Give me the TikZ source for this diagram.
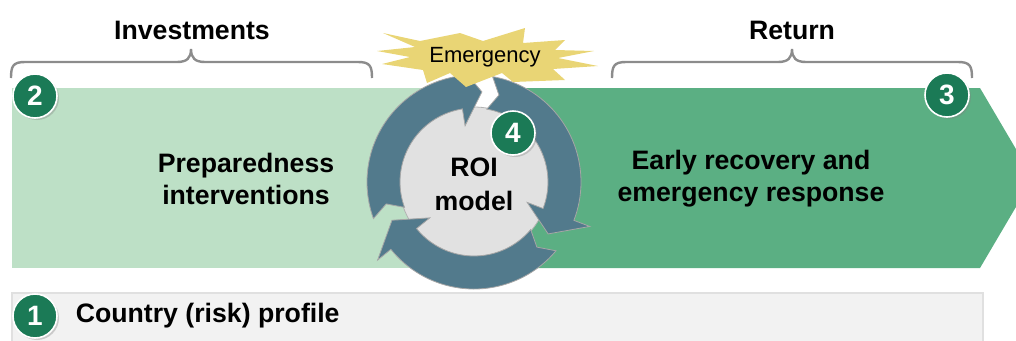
\documentclass[tikz,border=0pt]{standalone}
\usepackage{fontspec}
\setmainfont{Liberation Sans}
\usetikzlibrary{positioning,shadows}

\definecolor{lightgr}{HTML}{BDE0C6}
\definecolor{darkgr}{HTML}{5BAF83}
\definecolor{badgegr}{HTML}{1B7A56}
\definecolor{ringbl}{HTML}{527A8C}
\definecolor{discgr}{HTML}{E1E1E1}
\definecolor{bracegr}{HTML}{8C8C8C}
\definecolor{starye}{HTML}{E9D575}
\definecolor{barbg}{HTML}{F2F2F2}

% curved arrow of the cycle, #1 = angle of its tail
\newcommand{\cycarrow}[1]{%
  \filldraw[ringarrow] (#1:107) arc[start angle=#1, end angle=#1-101, radius=107]
    -- (#1-101:124) -- (#1-115:90.5) -- (#1-101:57) -- (#1-101:74)
    arc[start angle=#1-101, end angle=#1, radius=74] -- (#1-6:90.5) -- cycle;}

% curly bracket over the band, #1 left, #2 middle, #3 right
\newcommand{\bracket}[3]{%
  \draw[brace] (#1,78) .. controls (#1,66) and (#1+2,62) .. (#1+14,62) -- (#2-14,62)
    .. controls (#2-4,62) and (#2,58) .. (#2,49) .. controls (#2,58) and (#2+4,62) .. (#2+14,62)
    -- (#3-14,62) .. controls (#3-2,62) and (#3,66) .. (#3,78);}

\begin{document}
\begin{tikzpicture}[x=0.75pt,y=-0.75pt,
    badge/.style={circle, fill=badgegr, draw=white, line width=1.2pt, minimum size=33pt,
      inner sep=0pt, text=white, font=\fontsize{21}{21}\selectfont\bfseries,
      drop shadow={opacity=0.35, shadow xshift=1.5pt, shadow yshift=-1.5pt}},
    brace/.style={draw=bracegr, line width=1.8pt},
    ringarrow/.style={fill=ringbl, draw=gray!70, line width=0.6pt},
    head/.style={font=\fontsize{20}{24}\selectfont\bfseries, align=center}]

  \useasboundingbox (0,0) rectangle (1016,340);
  \clip (0,0) rectangle (1016,340);

  % bands
  \fill[lightgr] (12,88) rectangle (500,268);
  \fill[darkgr] (490,88) -- (980,88) -- (1033,178) -- (980,268) -- (490,268) -- cycle;
  \filldraw[fill=barbg, draw=black!12, line width=0.8pt] (12,293) rectangle (983,350);

  % brackets
  \bracket{11}{191}{372}
  \bracket{612}{792}{972}
  \node[head] (inv) at (192,30) {Investments};
  \node[head] (ret) at (792,30) {Return};

  % ROI cycle
  \begin{scope}[shift={(474,182)}, y=0.75pt]
    \fill[white] (80:110) -- (74:90.5) -- (80:72) -- (93:72) -- (85:90.5) -- (93:110) -- cycle;
    \filldraw[fill=discgr, draw=gray!60, line width=0.6pt] (0,0) circle[radius=75];
    \cycarrow{200}
    \cycarrow{80}
    \cycarrow{-40}
  \end{scope}

  % emergency burst
  \fill[starye] (383,33) -- (420,41) -- (460,33) -- (483,41) -- (525,28) -- (523,43)
    -- (565,40) -- (555,50) -- (594,51) -- (558,58) -- (598,66) -- (553,69)
    -- (565,80) -- (513,82) -- (502,73) -- (466,87) -- (450,73) -- (427,83)
    -- (423,70) -- (382,64) -- (410,57) -- (377,51) -- (415,47) -- cycle;
  \node[font=\fontsize{16.5}{18}\selectfont] (emerg) at (485,57) {Emergency};

  \node[head] (prep) at (246,179) {Preparedness\\interventions};
  \node[head] (early) at (751,179) {Early recovery and\\emergency response};
  \node[head, font=\fontsize{20}{25.5}\selectfont\bfseries] (roi) at (474,184) {ROI\\model};

  % numbered badges
  \node[badge] (b2) at (35,96) {2};
  \node[badge] (b3) at (947,95) {3};
  \node[badge] (b4) at (513,133) {4};
  \node[badge] (b1) at (35,316) {1};
  \node[head, right=10pt of b1] (country) {Country (risk) profile};

\end{tikzpicture}
\end{document}
